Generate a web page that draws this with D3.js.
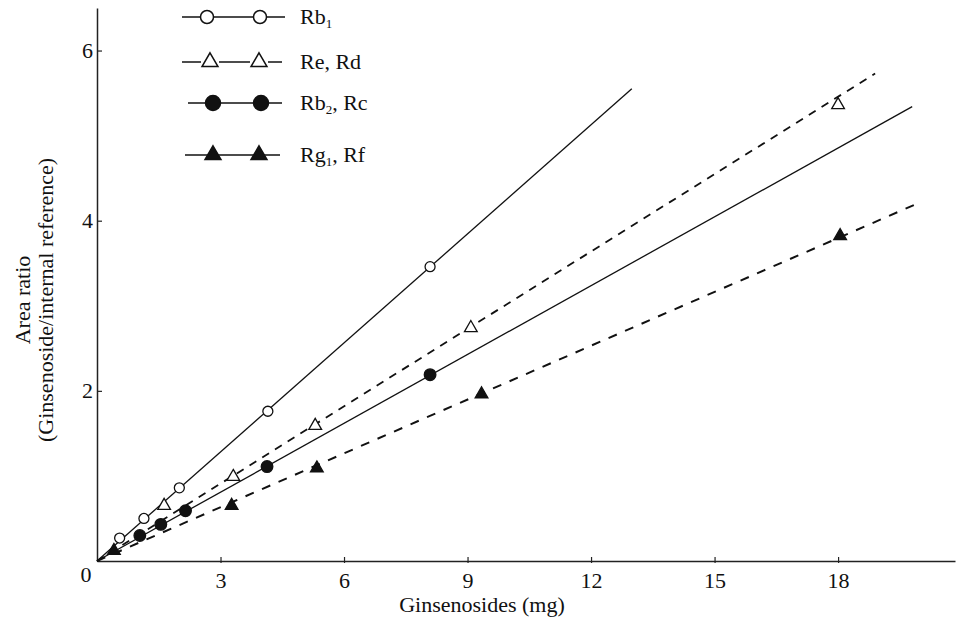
<!DOCTYPE html>
<html><head><meta charset="utf-8">
<script src="https://cdn.jsdelivr.net/npm/d3@7"></script>
<style>
html,body{margin:0;padding:0;background:#fff;}
svg text{font-family:"Liberation Serif","DejaVu Serif",serif;fill:#111;}
</style></head>
<body>
<svg id="chart" width="969" height="624"></svg>
<script>
// ---- data ----
const xTicks = [3, 6, 9, 12, 15, 18];
const yTicks = [2, 4, 6];
const seriesNames = ["Rb1", "Re, Rd", "Rb2, Rc", "Rg1, Rf"];
const rb1X = [0.55, 1.14, 2.0, 4.15, 8.09];
const rb1Y = [0.27, 0.50, 0.86, 1.76, 3.46];
const reX  = [1.63, 3.31, 5.30, 9.08, 18.0];
const reY  = [0.65, 0.99, 1.59, 2.74, 5.36];
const rb2X = [1.04, 1.55, 2.15, 4.13, 8.09];
const rb2Y = [0.30, 0.43, 0.59, 1.11, 2.19];
const rgX  = [0.41, 3.27, 5.34, 9.34, 18.05];
const rgY  = [0.12, 0.65, 1.09, 1.96, 3.82];
// fitted lines: from origin to end point
const rb1End = [12.99, 5.55];
const reEnd  = [18.9, 5.73];
const rb2End = [19.8, 5.34];
const rgEnd  = [19.87, 4.19];

const FS = 22;
const svg = d3.select("#chart");
const x = d3.scaleLinear().domain([0, 20.84]).range([97, 955]);
const y = d3.scaleLinear().domain([0, 6.5]).range([561, 8]);

// axes
const xAxis = d3.axisBottom(x).tickValues(xTicks).tickFormat(d3.format("d"))
  .tickSizeInner(-4).tickSizeOuter(0).tickPadding(11);
const gx = svg.append("g").attr("transform", `translate(0,${y(0)})`).call(xAxis);
gx.select(".domain").attr("stroke", "#222").attr("stroke-width", 1.5);
gx.selectAll(".tick line").attr("stroke", "#222").attr("stroke-width", 1.2).attr("y2", -4).attr("y1", 2);
gx.selectAll(".tick text").attr("font-size", FS).attr("font-family", "Liberation Serif");

const yAxis = d3.axisLeft(y).tickValues(yTicks).tickFormat(d3.format("d"))
  .tickSizeInner(-5).tickSizeOuter(0).tickPadding(4);
const gy = svg.append("g").attr("transform", `translate(${x(0)},0)`).call(yAxis);
gy.select(".domain").attr("stroke", "#222").attr("stroke-width", 1.5);
gy.selectAll(".tick line").attr("stroke", "#222").attr("stroke-width", 1.2);
gy.selectAll(".tick text").attr("font-size", FS).attr("font-family", "Liberation Serif");

svg.append("text").attr("x", x(0) - 11).attr("y", y(0) + 21)
  .attr("text-anchor", "middle").attr("font-size", FS).text("0");

// axis titles
svg.append("text").attr("x", 482).attr("y", 612).attr("text-anchor", "middle")
  .attr("font-size", FS).text("Ginsenosides (mg)");
svg.append("text").attr("transform", "translate(30,300) rotate(-90)")
  .attr("text-anchor", "middle").attr("font-size", FS).text("Area ratio");
svg.append("text").attr("transform", "translate(53,300) rotate(-90)")
  .attr("text-anchor", "middle").attr("font-size", FS).text("(Ginsenoside/internal reference)");

// series definitions
const series = [
  {xs: rb1X, ys: rb1Y, end: rb1End, dash: null, lw: 1.3, marker: "circle", fill: "#fff"},
  {xs: reX,  ys: reY,  end: reEnd,  dash: "8,7", lw: 1.8, marker: "triangle", fill: "#fff"},
  {xs: rb2X, ys: rb2Y, end: rb2End, dash: null, lw: 1.3, marker: "circle", fill: "#111"},
  {xs: rgX,  ys: rgY,  end: rgEnd,  dash: "9,9", lw: 2, marker: "triangle", fill: "#111"}
];
const line = d3.line().x(d => x(d[0])).y(d => y(d[1]));
const triSym = d3.symbol().type(d3.symbolTriangle).size(70);

series.forEach(s => {
  svg.append("path").datum([[0, 0], s.end]).attr("d", line)
    .attr("fill", "none").attr("stroke", "#111").attr("stroke-width", s.lw)
    .attr("stroke-dasharray", s.dash);
  const pts = s.xs.map((v, i) => [v, s.ys[i]]);
  if (s.marker === "circle") {
    svg.selectAll(null).data(pts).enter().append("circle")
      .attr("cx", d => x(d[0])).attr("cy", d => y(d[1])).attr("r", s.fill === "#fff" ? 5 : 5.8)
      .attr("fill", s.fill).attr("stroke", "#111").attr("stroke-width", 1.3);
  } else {
    svg.selectAll(null).data(pts).enter().append("path")
      .attr("d", triSym).attr("transform", d => `translate(${x(d[0])},${y(d[1])})`)
      .attr("fill", s.fill).attr("stroke", "#111").attr("stroke-width", 1.3);
  }
});

// legend
const legRows = [
  {y: 17, x1: 182, x2: 285, m: [207, 260], name: ["Rb", "1", ""]},
  {y: 62, x1: 182, x2: 282, m: [210, 259], name: ["Re, Rd", "", ""]},
  {y: 103, x1: 188, x2: 282, m: [213, 261], name: ["Rb", "2", ", Rc"]},
  {y: 155, x1: 185, x2: 280, m: [213, 259], name: ["Rg", "1", ", Rf"]}
];
legRows.forEach((r, i) => {
  const s = series[i];
  if (i === 1) {
    const segs = [[r.x1, r.m[0] - 9], [r.m[0] + 9, r.m[1] - 9], [r.m[1] + 9, r.x2]];
    segs.forEach(g => svg.append("line").attr("x1", g[0]).attr("x2", g[1]).attr("y1", r.y).attr("y2", r.y)
      .attr("stroke", "#111").attr("stroke-width", 1.5));
  } else {
    svg.append("line").attr("x1", r.x1).attr("x2", r.x2).attr("y1", r.y).attr("y2", r.y)
      .attr("stroke", "#111").attr("stroke-width", 1.5);
  }
  r.m.forEach(mx => {
    if (s.marker === "circle") {
      svg.append("circle").attr("cx", mx).attr("cy", r.y).attr("r", s.fill === "#fff" ? 6.5 : 7.5)
        .attr("fill", s.fill).attr("stroke", "#111").attr("stroke-width", 1.5);
    } else {
      svg.append("path").attr("d", d3.symbol().type(d3.symbolTriangle).size(110))
        .attr("transform", `translate(${mx},${r.y})`)
        .attr("fill", s.fill).attr("stroke", "#111").attr("stroke-width", 1.5);
    }
  });
  const t = svg.append("text").attr("x", 300).attr("y", r.y + 7).attr("font-size", FS);
  t.append("tspan").text(r.name[0]);
  if (r.name[1]) t.append("tspan").attr("font-size", 13).attr("dy", 4).text(r.name[1]);
  if (r.name[2]) t.append("tspan").attr("dy", -4).text(r.name[2]);
});
</script>
</body></html>
